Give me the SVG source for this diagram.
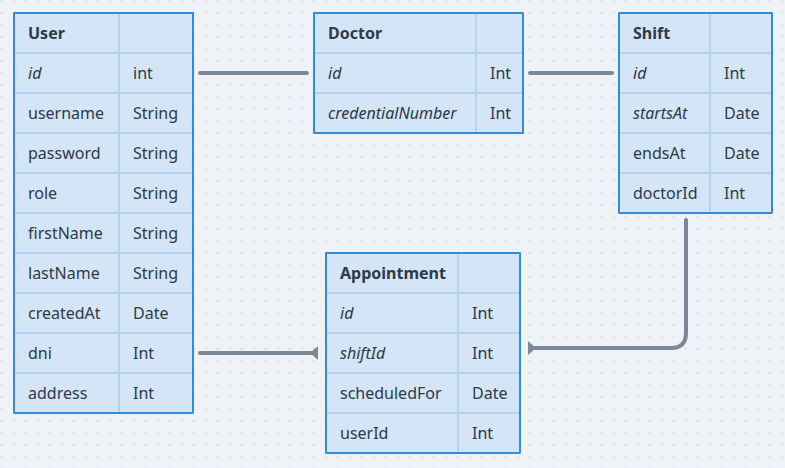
<svg xmlns="http://www.w3.org/2000/svg" width="785" height="468" viewBox="0 0 785 468">
<style>
.box{fill:#d3e5f6;stroke:#2f8ddc;stroke-width:2}
.grid{stroke:#b3d3f1;stroke-width:2;fill:none}
text{font-family:"Noto Sans","Open Sans","Liberation Sans",sans-serif;font-size:16px;fill:#2c3a4a}
.h{font-weight:bold}
.i{font-style:italic}
.con{stroke:#7b8996;stroke-width:4;fill:none;stroke-linecap:round}
.tri{fill:#7b8996}
</style>
<defs>
<pattern id="dots" x="0" y="0" width="24" height="24" patternUnits="userSpaceOnUse">
<rect x="0.7" y="-0.3" width="2" height="2" fill="#dce1e7"/>
<rect x="12.7" y="-0.3" width="2" height="2" fill="#dce1e7"/>
<rect x="12.7" y="11.7" width="2" height="2" fill="#dce1e7"/>
<rect x="0.7" y="11.7" width="2" height="2" fill="#c8cdd5"/>
</pattern>
</defs>
<rect width="785" height="468" fill="#eff3f7"/>
<rect width="785" height="468" fill="url(#dots)"/>

<g id="connectors">
<path class="con" d="M200 73 H307"/>
<path class="con" d="M530 73 H612"/>
<path class="con" d="M200 353 H312"/>
<polygon class="tri" points="318,346 318,360 310,353"/>
<path class="con" d="M686 220 V333 Q686 348 671 348 H532"/>
<polygon class="tri" points="528,341 528,355 536,348"/>
</g>

<g id="user">
<rect class="box" x="14" y="13" width="179" height="400" rx="1"/>
<path class="grid" d="M15 53 H192 M15 93 H192 M15 133 H192 M15 173 H192 M15 213 H192 M15 253 H192 M15 293 H192 M15 333 H192 M15 373 H192 M119 14 V412"/>
<rect x="14" y="13" width="179" height="400" rx="1" fill="none" stroke="#2f8ddc" stroke-width="2"/>
<text class="h" x="28" y="39">User</text>
<text class="i" x="28" y="79">id</text><text x="133" y="79">int</text>
<text x="28" y="119">username</text><text x="133" y="119">String</text>
<text x="28" y="159">password</text><text x="133" y="159">String</text>
<text x="28" y="199">role</text><text x="133" y="199">String</text>
<text x="28" y="239">firstName</text><text x="133" y="239">String</text>
<text x="28" y="279">lastName</text><text x="133" y="279">String</text>
<text x="28" y="319">createdAt</text><text x="133" y="319">Date</text>
<text x="28" y="359">dni</text><text x="133" y="359">Int</text>
<text x="28" y="399">address</text><text x="133" y="399">Int</text>
</g>

<g id="doctor">
<rect class="box" x="314" y="13" width="209" height="120" rx="1"/>
<path class="grid" d="M315 53 H522 M315 93 H522 M476 14 V132"/>
<rect x="314" y="13" width="209" height="120" rx="1" fill="none" stroke="#2f8ddc" stroke-width="2"/>
<text class="h" x="328" y="39">Doctor</text>
<text class="i" x="328" y="79">id</text><text x="490" y="79">Int</text>
<text class="i" x="328" y="119">credentialNumber</text><text x="490" y="119">Int</text>
</g>

<g id="shift">
<rect class="box" x="619" y="13" width="153" height="200" rx="1"/>
<path class="grid" d="M620 53 H771 M620 93 H771 M620 133 H771 M620 173 H771 M710 14 V212"/>
<rect x="619" y="13" width="153" height="200" rx="1" fill="none" stroke="#2f8ddc" stroke-width="2"/>
<text class="h" x="633" y="39">Shift</text>
<text class="i" x="633" y="79">id</text><text x="724" y="79">Int</text>
<text class="i" x="633" y="119">startsAt</text><text x="724" y="119">Date</text>
<text x="633" y="159">endsAt</text><text x="724" y="159">Date</text>
<text x="633" y="199">doctorId</text><text x="724" y="199">Int</text>
</g>

<g id="appointment">
<rect class="box" x="326" y="253" width="194" height="200" rx="1"/>
<path class="grid" d="M327 293 H519 M327 333 H519 M327 373 H519 M327 413 H519 M458 254 V452"/>
<rect x="326" y="253" width="194" height="200" rx="1" fill="none" stroke="#2f8ddc" stroke-width="2"/>
<text class="h" x="340" y="279">Appointment</text>
<text class="i" x="340" y="319">id</text><text x="472" y="319">Int</text>
<text class="i" x="340" y="359">shiftId</text><text x="472" y="359">Int</text>
<text x="340" y="399">scheduledFor</text><text x="472" y="399">Date</text>
<text x="340" y="439">userId</text><text x="472" y="439">Int</text>
</g>
</svg>
